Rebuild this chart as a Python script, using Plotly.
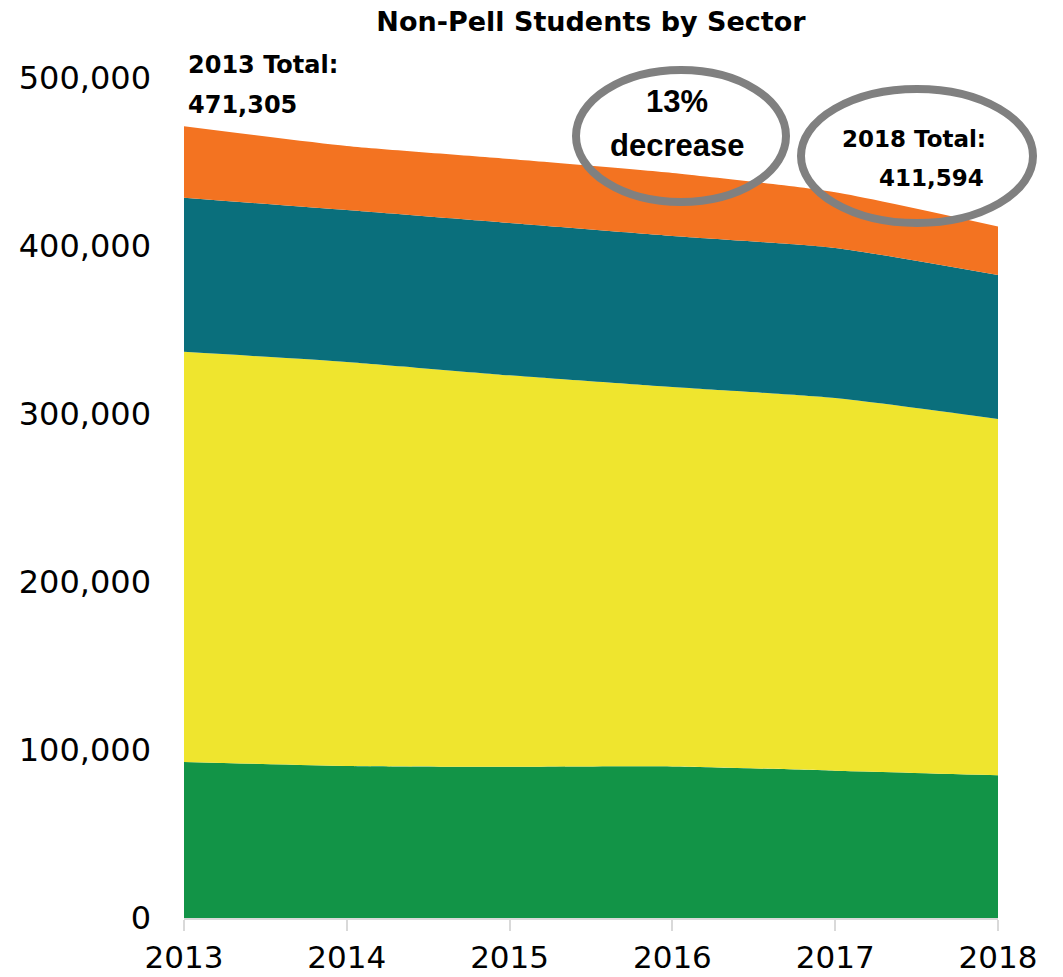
import plotly.graph_objects as go

years = [2013, 2014, 2015, 2016, 2017, 2018]

# Non-Pell students per sector (stacked bottom to top)
green_sector = [92900, 90500, 90000, 90200, 87700, 85000]
yellow_sector = [244100, 240500, 233000, 225800, 221800, 212000]
teal_sector = [91700, 90400, 90700, 90000, 89300, 85700]
orange_sector = [42605, 38100, 38100, 37500, 33200, 28894]

y_ticks = [0, 100000, 200000, 300000, 400000, 500000]
y_tick_text = ["0", "100,000", "200,000", "300,000", "400,000", "500,000"]

layers = [
    ("Green", green_sector, "#129447"),
    ("Yellow", yellow_sector, "#EFE52E"),
    ("Teal", teal_sector, "#0A6F7C"),
    ("Orange", orange_sector, "#F37321"),
]

FONT = "DejaVu Sans"
CALLOUT_FONT = "Liberation Sans"

fig = go.Figure()
for name, vals, col in layers:
    fig.add_trace(go.Scatter(
        x=years, y=vals, name=name, mode="lines",
        stackgroup="one",
        line=dict(width=0, shape="spline", smoothing=0.6, color=col),
        fillcolor=col,
        hoverinfo="x+y",
    ))

totals = [sum(v) for v in zip(green_sector, yellow_sector, teal_sector, orange_sector)]
decline = round((totals[0] - totals[-1]) / totals[0] * 100)

W, H = 1063, 977
L, R, T, B = 184, 65, 78, 59
pw, ph = W - L - R, H - T - B


def px(x):
    return (x - L) / pw


def py(y):
    return (H - B - y) / ph


fig.update_layout(
    width=W, height=H,
    margin=dict(l=L, r=R, t=T, b=B, autoexpand=False),
    paper_bgcolor="white", plot_bgcolor="white",
    showlegend=False,
    font=dict(family=FONT, color="black"),
    title=dict(text="<b>Non-Pell Students by Sector</b>", x=0.5, xref="paper",
               xanchor="center", y=1 - 22 / H, yanchor="middle",
               font=dict(size=27, family=FONT, color="black")),
    xaxis=dict(
        range=[2013, 2018], tickvals=years, ticktext=[str(y) for y in years],
        showgrid=False, zeroline=False, automargin=False,
        showline=True, linecolor="#d9d9d9", linewidth=2,
        ticks="outside", ticklen=11, tickcolor="#d9d9d9", tickwidth=2,
        ticklabelstandoff=0,
        tickfont=dict(size=31, family=FONT, color="black"),
    ),
    yaxis=dict(
        range=[0, 500000], tickvals=y_ticks, ticktext=y_tick_text,
        showgrid=True, gridcolor="#d9d9d9", gridwidth=1.5, automargin=False,
        zeroline=False, showline=False, ticks="", ticklabelstandoff=32,
        tickfont=dict(size=32, family=FONT, color="black"),
    ),
)


def note(text, x, y, anchor, size, family):
    fig.add_annotation(
        xref="paper", yref="paper", x=px(x), y=py(y), xanchor=anchor, yanchor="middle",
        text=f"<b>{text}</b>", showarrow=False,
        font=dict(size=size, family=family, color="black"),
    )


note(f"{years[0]} Total:", 186, 65, "left", 24, FONT)
note(f"{totals[0]:,}", 186, 105, "left", 24, FONT)
note(f"{decline}%", 677, 101, "center", 31, CALLOUT_FONT)
note("decrease", 677, 145, "center", 31, CALLOUT_FONT)
note(f"{years[-1]} Total:", 988, 139, "right", 23, FONT)
note(f"{totals[-1]:,}", 986, 178, "right", 23, FONT)

# Highlight rings around the callouts
for cx, cy, rx, ry in [(681, 136, 105, 66), (917, 156, 116, 67)]:
    fig.add_shape(
        type="circle", xref="paper", yref="paper",
        x0=px(cx - rx), x1=px(cx + rx), y0=py(cy + ry), y1=py(cy - ry),
        line=dict(color="#808080", width=8), fillcolor="rgba(0,0,0,0)",
    )

fig.write_html("out.html")
